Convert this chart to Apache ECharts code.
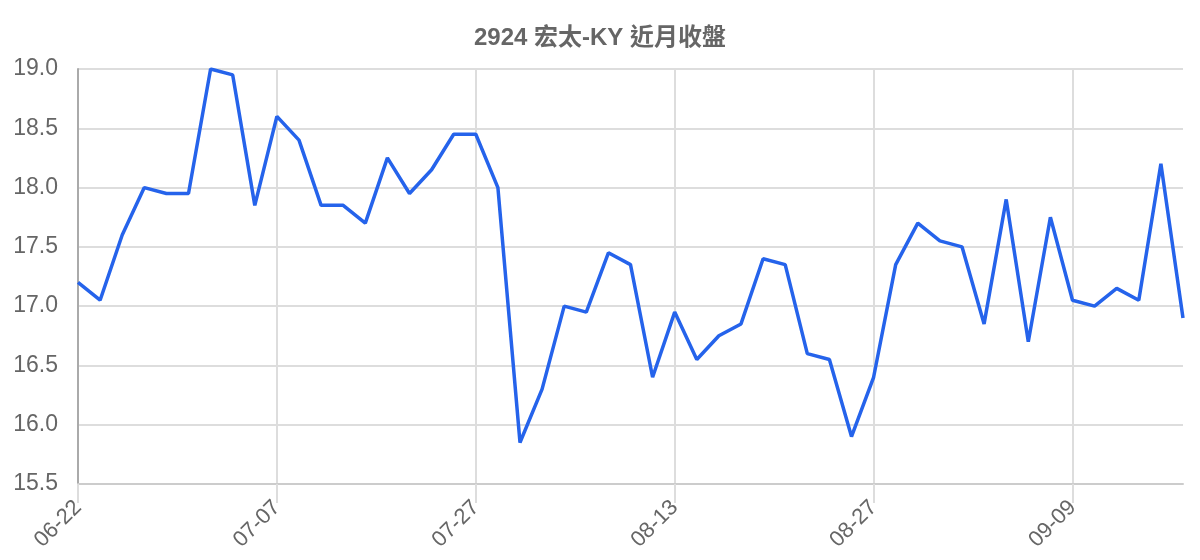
<!DOCTYPE html>
<html>
<head>
<meta charset="utf-8">
<script src="https://cdn.jsdelivr.net/npm/echarts@6/dist/echarts.min.js"></script>
<style>
  html, body { margin: 0; padding: 0; background: #fff; }
  #chart { width: 1200px; height: 560px; }
</style>
</head>
<body>
<div id="chart"></div>
<script>
var title = '2924 宏太-KY 近月收盤';

var dates = [
    '06-22', '06-23', '06-24', '06-27', '06-28', '06-29', '06-30', '07-01', '07-05',
    '07-07', '07-08', '07-11', '07-13', '07-15', '07-18', '07-20', '07-21', '07-25',
    '07-27', '07-28', '07-29', '08-01', '08-03', '08-05', '08-08', '08-09', '08-11',
    '08-13', '08-15', '08-16', '08-18', '08-19', '08-22', '08-23', '08-24', '08-26',
    '08-27', '08-29', '08-30', '08-31', '09-01', '09-02', '09-05', '09-06', '09-08',
    '09-09', '09-12', '09-13', '09-14', '09-15', '09-16'
];

var closes = [
    17.20, 17.05, 17.60, 18.00, 17.95, 17.95, 19.00, 18.95, 17.85,
    18.60, 18.40, 17.85, 17.85, 17.70, 18.25, 17.95, 18.15, 18.45,
    18.45, 18.00, 15.85, 16.30, 17.00, 16.95, 17.45, 17.35, 16.40,
    16.95, 16.55, 16.75, 16.85, 17.40, 17.35, 16.60, 16.55, 15.90,
    16.40, 17.35, 17.70, 17.55, 17.50, 16.85, 17.90, 16.70, 17.75,
    17.05, 17.00, 17.15, 17.05, 18.20, 16.90
];

var font = '"Liberation Sans", Arial, "Noto Sans CJK TC", sans-serif';

var myChart = echarts.init(document.getElementById('chart'));

var option = {
    animation: false,
    title: {
        text: title,
        left: 'center',
        top: 21,
        textStyle: {
            color: '#666',
            fontSize: 24,
            fontWeight: 'bold',
            fontFamily: font
        }
    },
    grid: {
        left: 78,
        right: 17,
        top: 69,
        bottom: 76
    },
    xAxis: {
        type: 'category',
        data: dates,
        boundaryGap: false,
        axisLine: { lineStyle: { color: '#ccc', width: 2 } },
        axisTick: {
            show: true,
            interval: 8,
            length: 19,
            lineStyle: { color: '#ddd', width: 2 }
        },
        axisLabel: {
            interval: 8,
            rotate: 45,
            margin: 20,
            color: '#666',
            fontSize: 22,
            fontFamily: font
        },
        splitLine: {
            show: true,
            interval: 8,
            lineStyle: { color: '#ddd', width: 2 }
        }
    },
    yAxis: {
        type: 'value',
        min: 15.5,
        max: 19.0,
        interval: 0.5,
        axisLine: { show: true, lineStyle: { color: '#aaa', width: 2 } },
        axisTick: { show: false },
        axisLabel: {
            color: '#666',
            fontSize: 23,
            margin: 20,
            fontFamily: font,
            formatter: function (v) { return v.toFixed(1); }
        },
        splitLine: { lineStyle: { color: '#ddd', width: 2 } }
    },
    series: [
        {
            type: 'line',
            data: closes,
            showSymbol: false,
            lineStyle: { color: '#2563eb', width: 3.5 },
            itemStyle: { color: '#2563eb' }
        }
    ]
};

myChart.setOption(option);
</script>
</body>
</html>
